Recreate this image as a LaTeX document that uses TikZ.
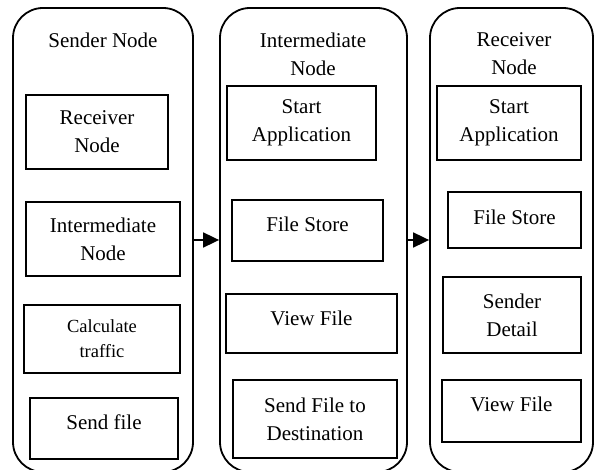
\documentclass[tikz,border=0pt]{standalone}
\usepackage{fontspec}
\setmainfont{Liberation Serif}
\usetikzlibrary{arrows.meta}

\tikzset{
  lane/.style={draw, line width=1.8pt, rounded corners=30pt, minimum width=#1, minimum height=464pt, inner sep=0pt},
  stepbox/.style={draw, line width=1.8pt, align=center, inner sep=0pt,
    font=\fontsize{21}{28}\selectfont},
  title/.style={align=center, inner sep=0pt, font=\fontsize{21}{28}\selectfont},
  flow/.style={line width=1.8pt, -{Triangle[length=16pt,width=15pt]}}
}

\begin{document}
\begin{tikzpicture}[x=1pt, y=-1pt]
\useasboundingbox (0,0) rectangle (595,470);
\clip (0,0) rectangle (595,470);

% three lanes
\node[lane=180pt] (L) at (103,240) {};
\node[lane=187pt] (M) at (313.5,240) {};
\node[lane=163pt] (R) at (511.5,240) {};

% lane titles
\node[title] (tL) at (103,40) {Sender Node};
\node[title] (tM) at (313,54) {Intermediate\\Node};
\node[title] (tR) at (514,54) {Receiver\\Node};

% sender steps
\node[stepbox, minimum width=142pt, minimum height=74pt] (L1) at (97,132) {Receiver\\Node};
\node[stepbox, minimum width=154pt, minimum height=74pt] (L2) at (103,239) {Intermediate\\Node};
\node[stepbox, minimum width=156pt, minimum height=68pt,
      font=\fontsize{18.5}{25}\selectfont] (L3) at (102,339) {Calculate\\traffic};
\node[stepbox, minimum width=148pt, minimum height=61pt, text depth=12pt] (L4) at (104,428.5) {Send file};

% intermediate steps
\node[stepbox, minimum width=149pt, minimum height=74pt] (M1) at (301.5,123) {Start\\Application};
\node[stepbox, minimum width=151pt, minimum height=61pt, text depth=13pt] (M2) at (307.5,230.5) {File Store};
\node[stepbox, minimum width=171pt, minimum height=59pt, text depth=10pt] (M3) at (311.5,323.5) {View File};
\node[stepbox, minimum width=164pt, minimum height=78pt] (M4) at (315,419) {Send File to\\Destination};

% receiver steps
\node[stepbox, minimum width=144pt, minimum height=74pt] (R1) at (509,123) {Start\\Application};
\node[stepbox, minimum width=133pt, minimum height=56pt, text depth=6pt] (R2) at (514.5,220) {File Store};
\node[stepbox, minimum width=138pt, minimum height=76pt] (R3) at (512,315) {Sender\\Detail};
\node[stepbox, minimum width=139pt, minimum height=62pt, text depth=14pt] (R4) at (511.5,411) {View File};

% hand-over arrows between lanes
\draw[flow] (L.east) -- (M.west);
\draw[flow] (M.east) -- (R.west);
\end{tikzpicture}
\end{document}
